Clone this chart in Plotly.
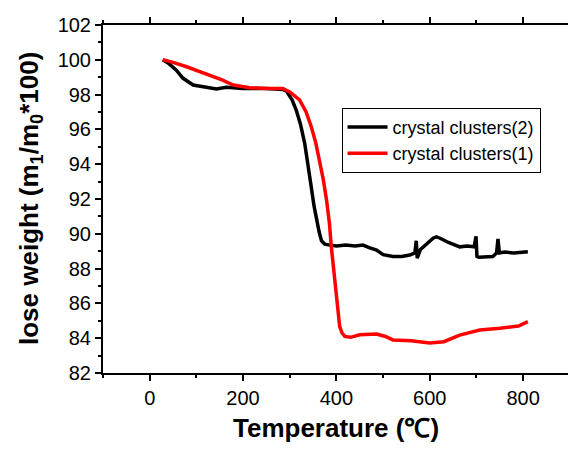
import plotly.graph_objects as go

# Thermogravimetric curves: temperature (°C) vs remaining mass (%)
temp_2 = [28, 40, 57, 71, 93, 120, 143, 164, 200, 250, 285, 293, 305, 314, 323, 332, 340,
          346, 352, 357, 363, 368, 375, 386, 400, 420, 440, 457, 470, 486, 500, 521, 540,
          557, 568, 571, 573, 580, 595, 607, 614, 621, 640, 664, 680, 695, 699, 701, 705,
          721, 735, 743, 746, 749, 760, 780, 810]
weight_2 = [100.0, 99.8, 99.4, 98.95, 98.55, 98.4, 98.32, 98.42, 98.35, 98.35, 98.3, 98.2,
            97.7, 97.1, 96.3, 95.2, 93.9, 92.7, 91.6, 90.8, 90.1, 89.6, 89.4, 89.35, 89.3,
            89.35, 89.3, 89.35, 89.2, 89.07, 88.8, 88.7, 88.7, 88.78, 88.9, 89.6, 88.6,
            89.1, 89.5, 89.75, 89.83, 89.76, 89.5, 89.25, 89.3, 89.25, 89.85, 88.7, 88.65,
            88.65, 88.7, 88.9, 89.7, 88.9, 88.95, 88.9, 88.97]

temp_1 = [28, 50, 79, 100, 129, 155, 179, 214, 250, 285, 300, 321, 335, 346, 356, 364, 372,
          379, 385, 389, 395, 400, 404, 407, 412, 418, 430, 450, 486, 505, 521, 560, 600,
          630, 664, 700, 707, 750, 790, 810]
weight_1 = [100.0, 99.85, 99.6, 99.4, 99.13, 98.85, 98.55, 98.4, 98.35, 98.35, 98.15, 97.7,
            97.0, 96.16, 95.2, 94.2, 93.1, 91.9, 90.6, 89.26, 87.6, 86.2, 85.3, 84.66, 84.3,
            84.1, 84.05, 84.2, 84.24, 84.1, 83.9, 83.85, 83.72, 83.8, 84.18, 84.45, 84.47,
            84.57, 84.7, 84.95]

x_ticks = [0, 200, 400, 600, 800]
y_ticks = [82, 84, 86, 88, 90, 92, 94, 96, 98, 100, 102]

FONT = "Liberation Sans, Arial, sans-serif"

fig = go.Figure()
fig.add_trace(go.Scatter(x=temp_2, y=weight_2, mode="lines", name="crystal clusters(2)",
                         line=dict(color="black", width=3.5)))
fig.add_trace(go.Scatter(x=temp_1, y=weight_1, mode="lines", name="crystal clusters(1)",
                         line=dict(color="#ff0000", width=3.5)))

fig.update_layout(
    width=568, height=450,
    margin=dict(l=103, r=0, t=25, b=77),
    plot_bgcolor="white", paper_bgcolor="white",
    font=dict(family=FONT, color="black"),
    showlegend=True,
    legend=dict(x=0.513, y=0.669, xanchor="left", yanchor="middle",
                bgcolor="white", bordercolor="black", borderwidth=1,
                font=dict(size=18, family=FONT), tracegroupgap=0,
                itemwidth=40),
    xaxis=dict(range=[-100, 896], tickvals=x_ticks, ticktext=[str(v) for v in x_ticks],
               showline=True, linecolor="black", linewidth=2, mirror="ticks",
               ticks="outside", ticklen=6, tickwidth=1.5, tickcolor="black",
               minor=dict(dtick=100, tick0=0, ticks="outside", ticklen=3,
                          tickwidth=1.5, tickcolor="black"),
               showgrid=False, zeroline=False,
               tickfont=dict(size=20, family=FONT)),
    yaxis=dict(range=[82, 102], tickvals=y_ticks, ticktext=[str(v) for v in y_ticks],
               showline=True, linecolor="black", linewidth=2,
               ticks="outside", ticklen=6, tickwidth=1.5, tickcolor="black",
               minor=dict(dtick=1, tick0=82, ticks="outside", ticklen=3,
                          tickwidth=1.5, tickcolor="black"),
               showgrid=False, zeroline=False,
               tickfont=dict(size=20, family=FONT)),
    annotations=[
        dict(text="<b>Temperature (℃)</b>", xref="paper", yref="paper",
             x=0.5, y=0, xanchor="center", yanchor="middle", yshift=-55,
             showarrow=False, font=dict(size=26, family=FONT)),
        dict(text="<b>lose weight (m<sub>1</sub>/m<sub>0</sub>*100)</b>",
             xref="paper", yref="paper", x=0, y=0.5, xanchor="center",
             yanchor="middle", xshift=-73, textangle=-90,
             showarrow=False, font=dict(size=26, family=FONT)),
    ],
)

fig.write_html("out.html")
